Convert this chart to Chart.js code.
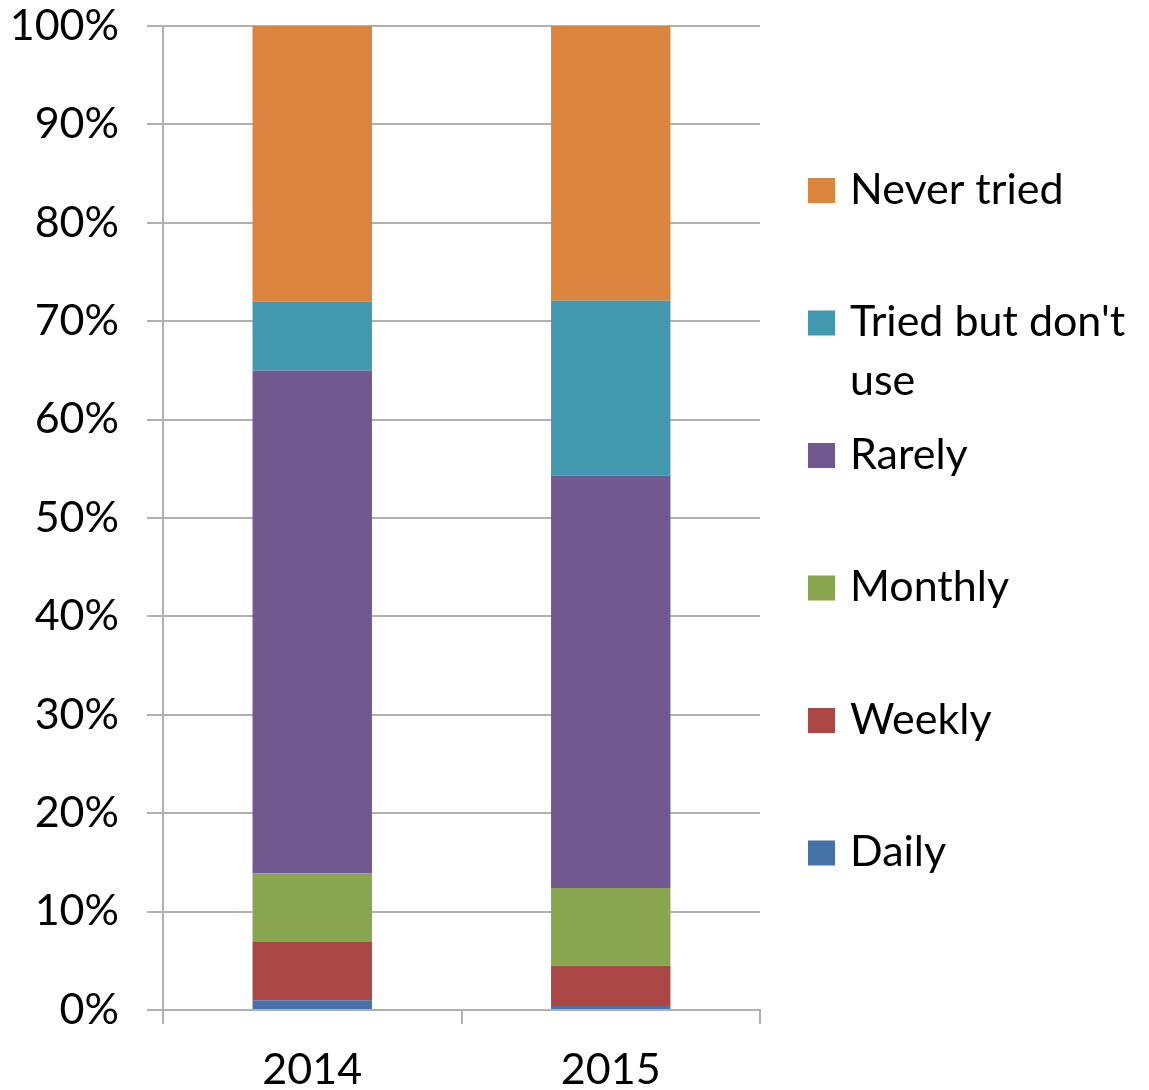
<!DOCTYPE html>
<html>
<head>
<meta charset="utf-8">
<script src="https://cdn.jsdelivr.net/npm/chart.js@4/dist/chart.umd.min.js"></script>
<style>
  html, body { margin: 0; padding: 0; background: #fff; }
</style>
</head>
<body>
<canvas id="usage-chart" width="1149" height="1090"></canvas>
<script>
const years = ['2014', '2015'];
const seriesNames = ['Daily', 'Weekly', 'Monthly', 'Rarely', "Tried but don't use", 'Never tried'];
const daily = [1.0, 0.4];
const weekly = [5.9, 4.1];
const monthly = [7.0, 7.9];
const rarely = [51.1, 41.9];
const triedNotUse = [7.0, 17.8];
const neverTried = [28.0, 27.9];
const yTicks = [0, 10, 20, 30, 40, 50, 60, 70, 80, 90, 100];

const colors = ['#4572a7', '#aa4643', '#89a54e', '#71588f', '#4198af', '#db843d'];
const fontFamily = 'Lato, "Open Sans", sans-serif';

const seriesData = [daily, weekly, monthly, rarely, triedNotUse, neverTried];

// legend drawn on the right, top item = last series
const sideLegend = {
    id: 'sideLegend',
    afterDraw(chart) {
        const c = chart.ctx;
        c.save();
        c.font = '43px ' + fontFamily;
        c.textBaseline = 'middle';
        const items = chart.data.datasets.slice().reverse();
        items.forEach((ds, i) => {
            const cy = 190 + i * 132.5;
            c.fillStyle = ds.backgroundColor;
            c.fillRect(808, cy - 12, 27, 25);
            c.fillStyle = '#000';
            const lines = ds.label === "Tried but don't use" ? ["Tried but don't", 'use'] : [ds.label];
            lines.forEach((t, j) => c.fillText(t, 850, cy + j * 59));
        });
        c.restore();
    }
};

new Chart(document.getElementById('usage-chart').getContext('2d'), {
    type: 'bar',
    data: {
        labels: years,
        datasets: seriesNames.map((name, i) => ({
            label: name,
            data: seriesData[i],
            backgroundColor: colors[i],
            borderWidth: 0,
            barPercentage: 0.4,
            categoryPercentage: 1.0
        }))
    },
    options: {
        responsive: false,
        animation: false,
        layout: { padding: { left: 0, right: 389, top: 26, bottom: 0 } },
        plugins: {
            legend: { display: false },
            tooltip: { enabled: false }
        },
        scales: {
            x: {
                stacked: true,
                offset: true,
                border: { color: '#b0b0b0', width: 2 },
                grid: { offset: true, drawOnChartArea: false, drawTicks: true, tickLength: 14, color: '#b0b0b0', lineWidth: 2 },
                ticks: { color: '#000', font: { family: fontFamily, size: 43 }, padding: 20 },
                afterFit: (scale) => { scale.height = 80; scale.paddingLeft = 0; scale.paddingRight = 0; }
            },
            y: {
                stacked: true,
                min: 0,
                max: 100,
                afterBuildTicks: (scale) => { scale.ticks = yTicks.map(v => ({ value: v })); },
                border: { color: '#b0b0b0', width: 2 },
                grid: { color: '#b0b0b0', lineWidth: 2, tickLength: 16 },
                ticks: {
                    color: '#000',
                    font: { family: fontFamily, size: 43 },
                    padding: 28,
                    callback: (v) => v + '%'
                },
                afterFit: (scale) => { scale.width = 163; scale.paddingTop = 0; scale.paddingBottom = 0; }
            }
        }
    },
    plugins: [sideLegend]
});
</script>
</body>
</html>
